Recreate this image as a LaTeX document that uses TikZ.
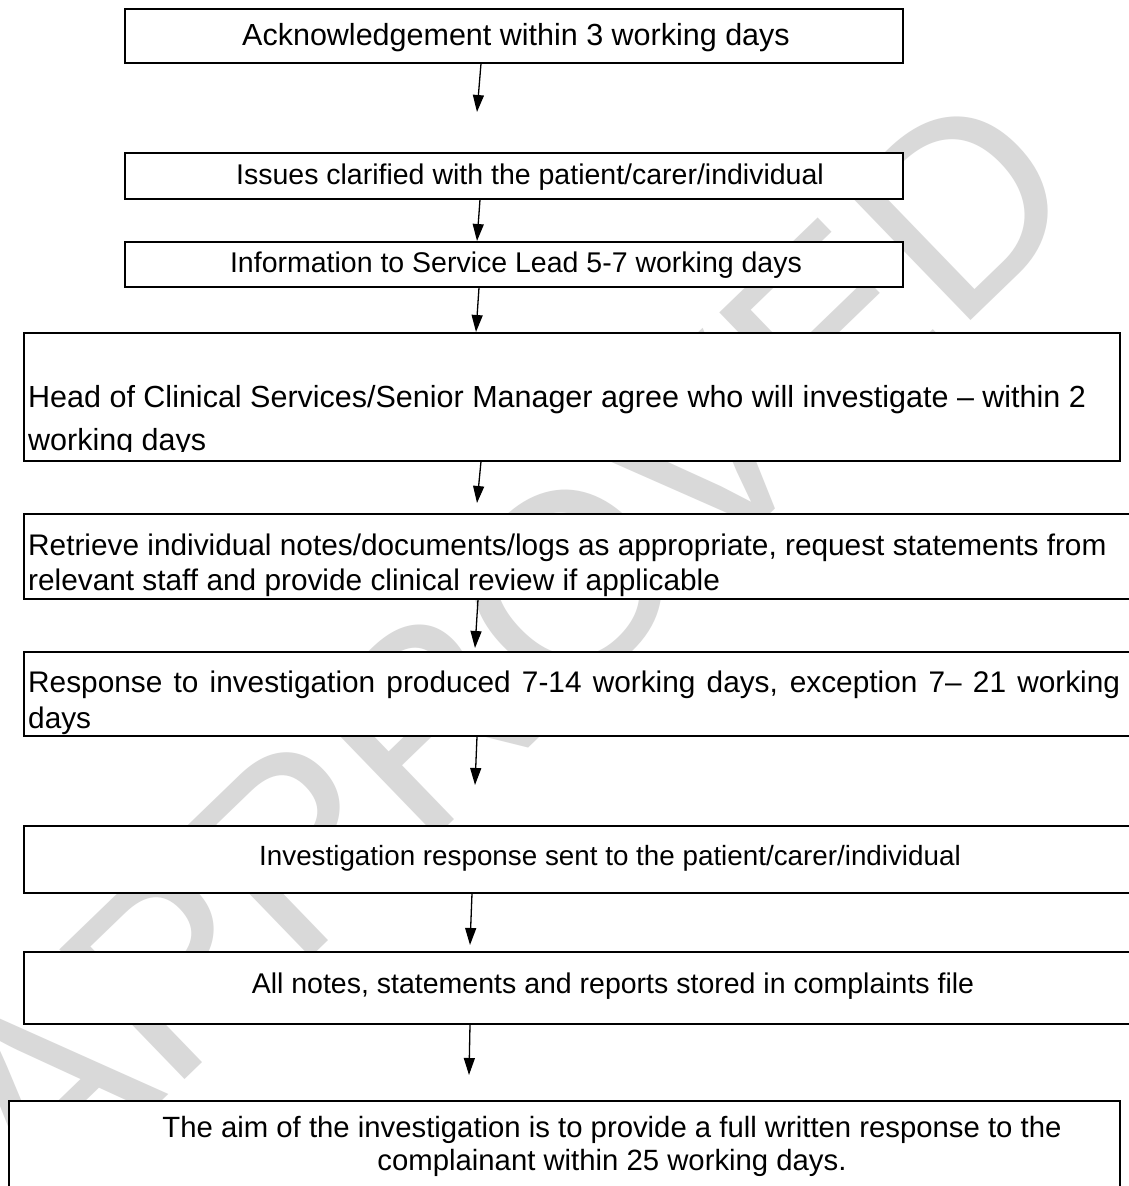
\documentclass[tikz,border=0pt]{standalone}
\usepackage{fontspec}
\setmainfont{Liberation Sans}
\usetikzlibrary{arrows.meta}
\begin{document}
\begin{tikzpicture}[x=1pt,y=-1pt,
  box/.style={draw=black, fill=white, line width=1.5pt, inner sep=0pt, anchor=north west},
  lbl/.style={font=\fontsize{28.5}{34}\selectfont, inner sep=0pt, text=black},
  lblw/.style={font=\fontsize{30.5}{36}\selectfont, inner sep=0pt, text=black},
  lbln/.style={font=\fontsize{29.8}{36}\selectfont, inner sep=0pt, text=black},
  arr/.style={line width=1.3pt, -{Triangle[length=17pt,width=11pt]}},
  wm/.style={font=\fontsize{262}{262}\selectfont, text=black!15, inner sep=0pt}]
\path[use as bounding box] (0,0) rectangle (1129,1186);
\clip (0,0) rectangle (1129,1186);
\fill[white] (0,0) rectangle (1129,1186);
% watermark
\node[wm, rotate=44] (wmark) at (505,645) {APPROVED};
% boxes
\node[box, minimum width=778pt, minimum height=54pt] (b1) at (124,8) {};
\node[box, minimum width=778pt, minimum height=46pt] (b2) at (124,152) {};
\node[box, minimum width=778pt, minimum height=45pt] (b3) at (124,241) {};
\node[box, minimum width=1096pt, minimum height=128pt] (b4) at (23,332) {};
\node[box, minimum width=1130pt, minimum height=85pt] (b5) at (23,513) {};
\node[box, minimum width=1130pt, minimum height=84pt] (b6) at (23,651) {};
\node[box, minimum width=1130pt, minimum height=67pt] (b7) at (23,825) {};
\node[box, minimum width=1130pt, minimum height=72pt] (b8) at (23,951) {};
\node[box, minimum width=1111pt, minimum height=120pt] (b9) at (8,1100) {};
% texts
\node[lblw, anchor=base] (t1) at (516,45) {Acknowledgement within 3 working days};
\node[lbl, anchor=base] (t2) at (530,184) {Issues clarified with the patient/carer/individual};
\node[lbl, anchor=base] (t3) at (516,272) {Information to Service Lead 5-7 working days};
\node[lblw, anchor=base west] (t4a) at (28,407) {Head of Clinical Services/Senior Manager agree who will investigate – within 2};
\begin{scope}
\clip (23,420) rectangle (1119,451);
\node[lblw, anchor=base west] (t4b) at (28,450) {working days};
\end{scope}
\node[lbln, anchor=base west] (t5a) at (28,555) {Retrieve individual notes/documents/logs as appropriate, request statements from};
\node[lbln, anchor=base west] (t5b) at (28,590) {relevant staff and provide clinical review if applicable};
\node[lbln, anchor=base west] (t6a) at (28,692) {\makebox[1092pt][s]{Response to investigation produced 7-14 working days, exception 7– 21 working}};
\node[lbln, anchor=base west] (t6b) at (28,728) {days};
\node[lbl, anchor=base, font=\fontsize{27.8}{34}\selectfont] (t7) at (610,865) {Investigation response sent to the patient/carer/individual};
\node[lbl, anchor=base] (t8) at (613,993) {All notes, statements and reports stored in complaints file};
\node[lbl, anchor=base, font=\fontsize{29.3}{34}\selectfont] (t9a) at (612,1137) {The aim of the investigation is to provide a full written response to the};
\node[lbl, anchor=base, font=\fontsize{29.3}{34}\selectfont] (t9b) at (612,1170) {complainant within 25 working days.};
% arrows
\coordinate (s1) at (481,0); \coordinate (e1) at (477,112);
\coordinate (s2) at (480,0); \coordinate (e2) at (477,241);
\coordinate (s3) at (479,0); \coordinate (e3) at (476,332);
\coordinate (s4) at (481,0); \coordinate (e4) at (477,503);
\coordinate (s5) at (478,0); \coordinate (e5) at (475,648);
\coordinate (s6) at (477,0); \coordinate (e6) at (475,785);
\coordinate (s7) at (472,0); \coordinate (e7) at (470,945);
\coordinate (s8) at (470,0); \coordinate (e8) at (469,1075);
\draw[arr] (s1 |- b1.south) -- (e1);
\draw[arr] (s2 |- b2.south) -- (e2);
\draw[arr] (s3 |- b3.south) -- (e3);
\draw[arr] (s4 |- b4.south) -- (e4);
\draw[arr] (s5 |- b5.south) -- (e5);
\draw[arr] (s6 |- b6.south) -- (e6);
\draw[arr] (s7 |- b7.south) -- (e7);
\draw[arr] (s8 |- b8.south) -- (e8);
\end{tikzpicture}
\end{document}
